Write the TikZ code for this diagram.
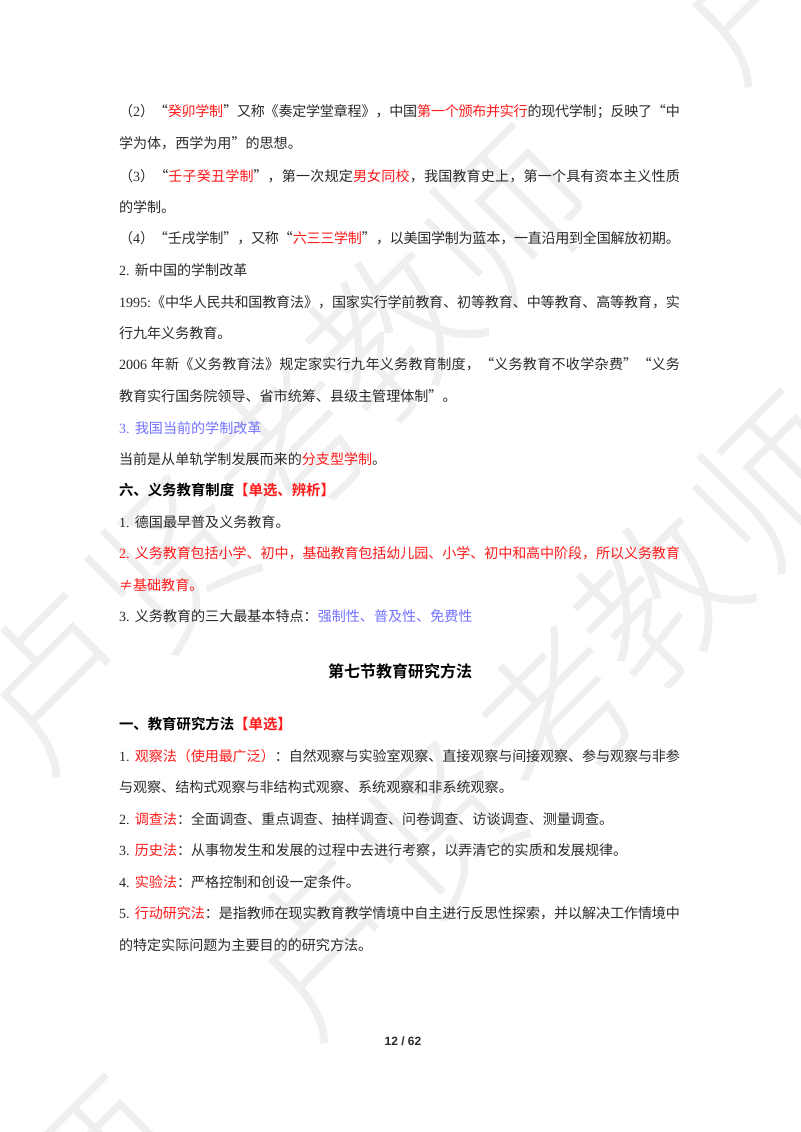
\documentclass[tikz,border=0pt]{standalone}
\usepackage{fontspec}
\setmainfont{Liberation Serif}
\newfontfamily\cjk{Noto Sans CJK SC}
\newfontfamily\cjkl{Noto Sans CJK SC Light}
\newfontfamily\cjkb{Noto Sans CJK SC Bold}
\newfontfamily\latf{Liberation Serif}
\newfontfamily\arialb{Liberation Sans Bold}
\definecolor{wred}{HTML}{FF1A1A}
\definecolor{wblue}{HTML}{7272FF}
\definecolor{wmark}{HTML}{EFEFEF}
\definecolor{wtext}{HTML}{2A2A2A}
\newcommand\rd[1]{\textcolor{wred}{#1}}
\newcommand\bl[1]{\textcolor{wblue}{#1}}
\newcommand\lat[1]{{\latf #1}}
\newcommand\num[1]{{\latf #1}\kern4pt\relax}
\newcommand\jl[1]{\parbox[b]{420.75pt}{\XeTeXlinebreaklocale "zh"\XeTeXlinebreakskip=0pt plus 3pt minus 0.4pt\parindent=0pt\parfillskip=0pt\tolerance=10000\hbadness=10000\hfuzz=20pt #1\par}}
\tikzset{
  x=0.75pt,y=-0.75pt,
  txt/.style={anchor=base west,inner sep=0pt,outer sep=0pt,text=wtext,font=\fontsize{10.55}{12}\selectfont\cjk},
  hd/.style={anchor=base west,inner sep=0pt,outer sep=0pt,text=black,font=\fontsize{10.8}{12}\selectfont\cjkb},
  ttl/.style={anchor=base,inner sep=0pt,outer sep=0pt,text=black,font=\fontsize{12}{14}\selectfont\cjkb},
  pg/.style={anchor=base,inner sep=0pt,outer sep=0pt,text=wtext,font=\fontsize{9}{11}\selectfont\arialb},
  wm/.style={inner sep=0pt,rotate=45,text=wmark,font=\fontsize{120}{130}\selectfont\cjkl},
}
\begin{document}
\begin{tikzpicture}
\path[use as bounding box,fill=white] (0,0) rectangle (800,1132);
\clip (0,0) rectangle (800,1132);
% watermark
\node[wm] (a1) at (55,680) {卢};
\node[wm] (a2) at (172,563) {贤};
\node[wm] (a3) at (289,446) {考};
\node[wm] (a4) at (390,333) {教};
\node[wm] (a5) at (507,217) {师};
\node[wm] (a6) at (747,-10) {卢};
\node[wm] (b1) at (323,946) {卢};
\node[wm] (b2) at (440,829) {贤};
\node[wm] (b3) at (557,712) {考};
\node[wm] (b4) at (658,599) {教};
\node[wm] (b5) at (775,483) {师};
\node[wm] (b0) at (99,1168) {师};
% body
\node[txt] (l1) at (119,116.5) {\jl{（\lat{2}）“\rd{癸卯学制}”又称《奏定学堂章程》，中国\rd{第一个颁布并实行}的现代学制；反映了“中}};
\node[txt] (l2) at (119,148) {学为体，西学为用”的思想。};
\node[txt] (l3) at (119,181) {\jl{（\lat{3}）“\rd{壬子癸丑学制}”，第一次规定\rd{男女同校}，我国教育史上，第一个具有资本主义性质}};
\node[txt] (l4) at (119,212.5) {的学制。};
\node[txt] (l5) at (119,243) {\jl{（\lat{4}）“壬戌学制”，又称“\rd{六三三学制}”，以美国学制为蓝本，一直沿用到全国解放初期。}};
\node[txt] (l6) at (119,275) {\num{2.}新中国的学制改革};
\node[txt] (l7) at (119,307) {\jl{\lat{1995:}《中华人民共和国教育法》，国家实行学前教育、初等教育、中等教育、高等教育，实}};
\node[txt] (l8) at (119,338) {行九年义务教育。};
\node[txt] (l9) at (119,369) {\jl{\lat{2006 }年新《义务教育法》规定家实行九年义务教育制度，“义务教育不收学杂费”“义务}};
\node[txt] (l10) at (119,401) {教育实行国务院领导、省市统筹、县级主管理体制”。};
\node[txt] (l11) at (119,433) {\bl{\num{3.}我国当前的学制改革}};
\node[txt] (l12) at (119,464) {当前是从单轨学制发展而来的\rd{分支型学制}。};
\node[hd] (l13) at (119,495) {六、义务教育制度\rd{【单选、辨析】}};
\node[txt] (l14) at (119,527) {\num{1.}德国最早普及义务教育。};
\node[txt] (l15) at (119,558) {\jl{\rd{\num{2.}义务教育包括小学、初中，基础教育包括幼儿园、小学、初中和高中阶段，所以义务教育}}};
\node[txt] (l16) at (119,590) {\rd{≠基础教育。}};
\node[txt] (l17) at (119,621) {\num{3.}义务教育的三大最基本特点：\bl{强制性、普及性、免费性}};
\node[ttl] (t1) at (400,677) {第七节教育研究方法};
\node[hd] (l18) at (119,729) {一、教育研究方法\rd{【单选】}};
\node[txt] (l19) at (119,761) {\jl{\num{1.}\rd{观察法（使用最广泛）}：自然观察与实验室观察、直接观察与间接观察、参与观察与非参}};
\node[txt] (l20) at (119,792) {与观察、结构式观察与非结构式观察、系统观察和非系统观察。};
\node[txt] (l21) at (119,824) {\num{2.}\rd{调查法}：全面调查、重点调查、抽样调查、问卷调查、访谈调查、测量调查。};
\node[txt] (l22) at (119,855) {\num{3.}\rd{历史法}：从事物发生和发展的过程中去进行考察，以弄清它的实质和发展规律。};
\node[txt] (l23) at (119,887) {\num{4.}\rd{实验法}：严格控制和创设一定条件。};
\node[txt] (l24) at (119,918) {\jl{\num{5.}\rd{行动研究法}：是指教师在现实教育教学情境中自主进行反思性探索，并以解决工作情境中}};
\node[txt] (l25) at (119,950) {的特定实际问题为主要目的的研究方法。};
\node[pg] (p) at (403,1045) {12 / 62};
\end{tikzpicture}
\end{document}
